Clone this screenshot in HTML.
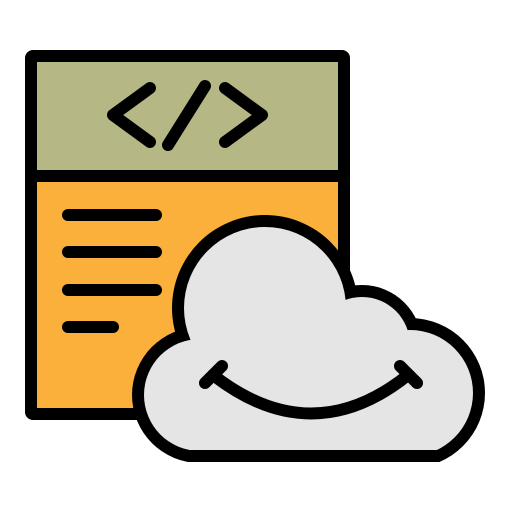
<!DOCTYPE html>
<html><head><style>html,body{margin:0;padding:0;background:#fff;}svg{display:block}</style></head>
<body>
<svg width="512" height="512" viewBox="0 0 512 512" xmlns="http://www.w3.org/2000/svg">
<rect x="31" y="56" width="313" height="120" fill="#b5b784"/>
<rect x="31" y="176" width="313" height="238" fill="#fbb03b"/>
<rect x="31" y="56" width="313" height="358" fill="none" stroke="#000" stroke-width="12" rx="2"/>
<line x1="31" y1="176" x2="344" y2="176" stroke="#000" stroke-width="12"/>
<g fill="none" stroke="#000" stroke-width="12" stroke-linecap="round" stroke-linejoin="round">
<polyline points="150,88 113,115 150,142"/>
<line x1="205" y1="86" x2="168" y2="145"/>
<polyline points="225,88 262,115 225,142"/>
<line x1="68" y1="215" x2="156" y2="215"/>
<line x1="68" y1="252" x2="156" y2="252"/>
<line x1="68" y1="290" x2="156" y2="290"/>
<line x1="68" y1="327" x2="113" y2="327"/>
</g>
<defs><clipPath id="cb"><rect x="0" y="0" width="512" height="462"/></clipPath>
<clipPath id="cg"><rect x="0" y="0" width="512" height="450"/></clipPath></defs>
<g clip-path="url(#cb)" fill="#000">
<circle cx="265" cy="308" r="93"/>
<circle cx="362" cy="345" r="60"/>
<circle cx="410" cy="393" r="75"/>
<circle cx="200" cy="395" r="68"/>
<rect x="195" y="360" width="225" height="110"/>
</g>
<g clip-path="url(#cg)" fill="#e5e5e5">
<circle cx="265" cy="308" r="81"/>
<circle cx="362" cy="345" r="48"/>
<circle cx="410" cy="393" r="63"/>
<circle cx="200" cy="395" r="56"/>
<rect x="195" y="360" width="225" height="110"/>
</g>
<g fill="none" stroke="#000" stroke-width="12" stroke-linecap="round">
<path d="M213,375 Q312,452 408,375"/>
<line x1="205" y1="383" x2="222" y2="366"/>
<line x1="417" y1="383" x2="400" y2="366"/>
</g>
</svg>
</body></html>
